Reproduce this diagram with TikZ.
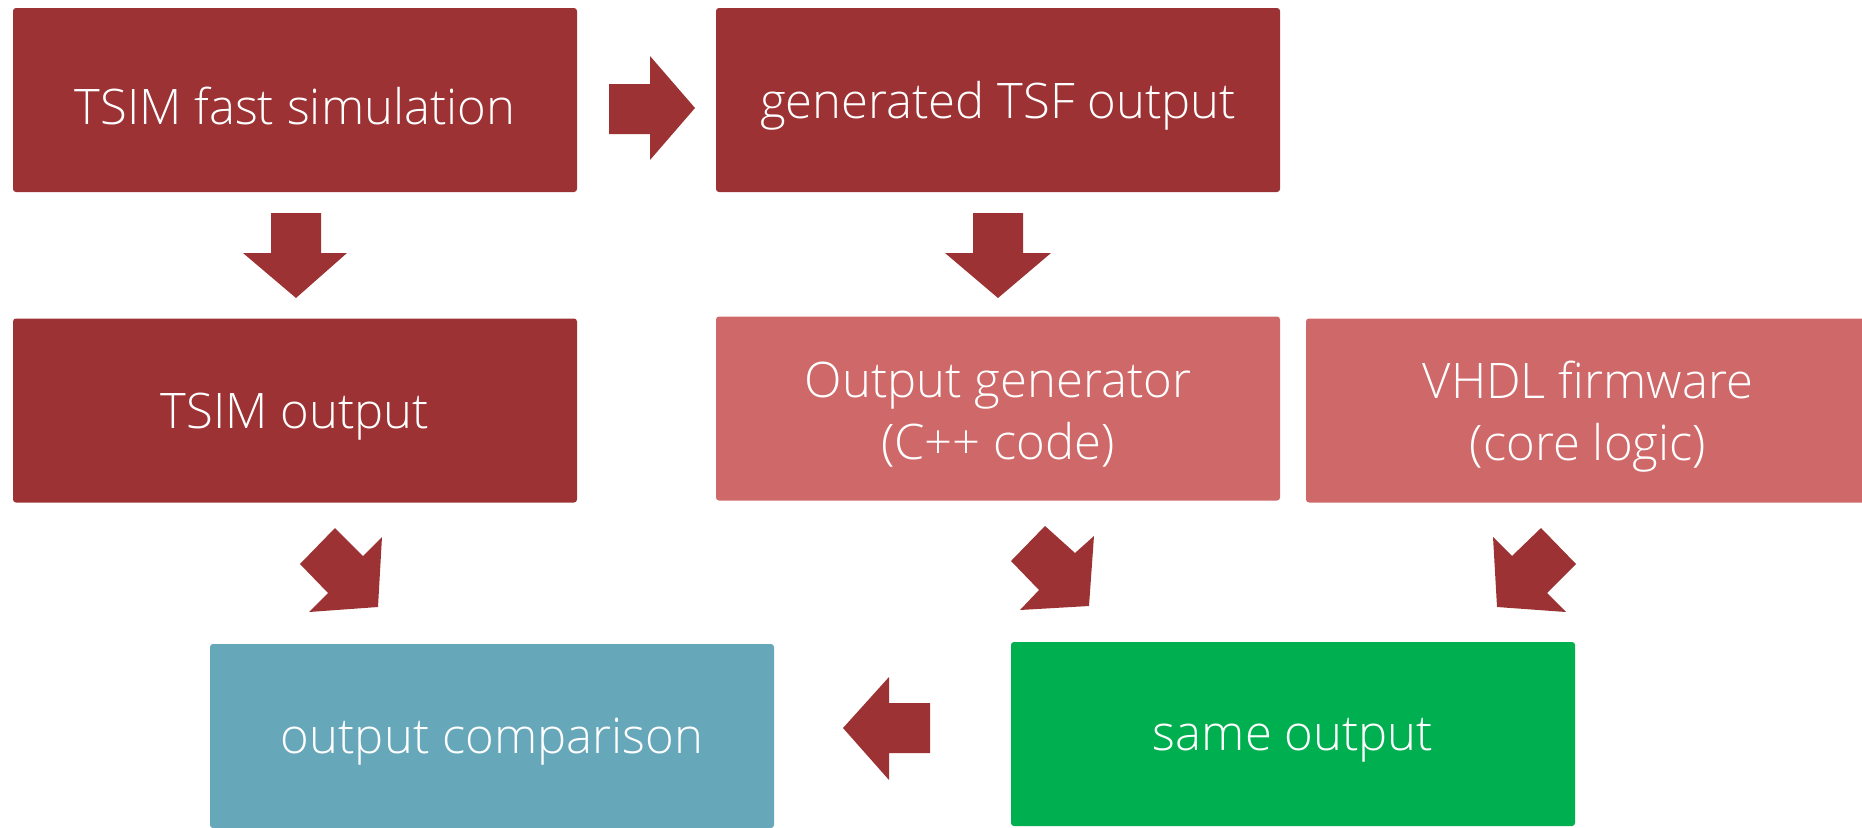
\documentclass[tikz,border=0pt]{standalone}
\usepackage{fontspec}
\setmainfont{Open Sans}[UprightFont=* Light]
\definecolor{darkred}{HTML}{9C3233}
\definecolor{lightred}{HTML}{CF6868}
\definecolor{tealbox}{HTML}{67A7BA}
\definecolor{greenbox}{HTML}{00AF50}
\begin{document}
\begin{tikzpicture}[x=1pt,y=-1pt,
  box/.style={minimum width=564pt,minimum height=184pt,inner sep=0pt,rounded corners=3pt},
  boxtext/.style={text=white,align=center,inner sep=0pt,yshift=-6pt,font=\fontsize{49}{62}\selectfont},
  blockarrow/.style={fill=darkred,draw=none}]
\useasboundingbox (0,0) rectangle (1862,827);
\node[box,fill=darkred,label={[boxtext]center:TSIM fast simulation}] (sim) at (295,100) {};
\node[box,fill=darkred,label={[boxtext]center:generated TSF output}] (tsf) at (998,100) {};
\node[box,fill=darkred,label={[boxtext]center:TSIM output}] (tout) at (295,410.5) {};
\node[box,fill=lightred,label={[boxtext]center:Output generator\\(C++ code)}] (gen) at (998,408.5) {};
\node[box,fill=lightred,label={[boxtext]center:VHDL firmware\\(core logic)}] (vhdl) at (1588,410.5) {};
\node[box,fill=tealbox,label={[boxtext]center:output comparison}] (cmp) at (492,736) {};
\node[box,fill=greenbox,label={[boxtext]center:same output}] (same) at (1293,734) {};
% right arrow sim -> tsf
\fill[blockarrow] (609,84) -- (650,84) -- (650,56) -- (695,108) -- (650,160) -- (650,134) -- (609,134) -- cycle;
% down arrows
\fill[blockarrow] (271,213) -- (321,213) -- (321,253) -- (347,253) -- (296,298) -- (243,253) -- (271,253) -- cycle;
\fill[blockarrow] (973,213) -- (1023,213) -- (1023,253) -- (1051,253) -- (998,298) -- (945,253) -- (973,253) -- cycle;
% diagonal arrows
\fill[blockarrow] (300,564) -- (335,528) -- (363,556) -- (382,537) -- (378,607) -- (309,612) -- (328,593) -- cycle;
\fill[blockarrow] (1011,561) -- (1045,526) -- (1075,553) -- (1094,536) -- (1089,606) -- (1020,610) -- (1039,590) -- cycle;
\fill[blockarrow] (1576,564) -- (1541,528) -- (1512,556) -- (1493,537) -- (1497,607) -- (1566,612) -- (1547,593) -- cycle;
% left arrow same -> cmp
\fill[blockarrow] (930,703) -- (889,703) -- (889,677) -- (843,728) -- (889,780) -- (889,753) -- (930,753) -- cycle;
\end{tikzpicture}
\end{document}
